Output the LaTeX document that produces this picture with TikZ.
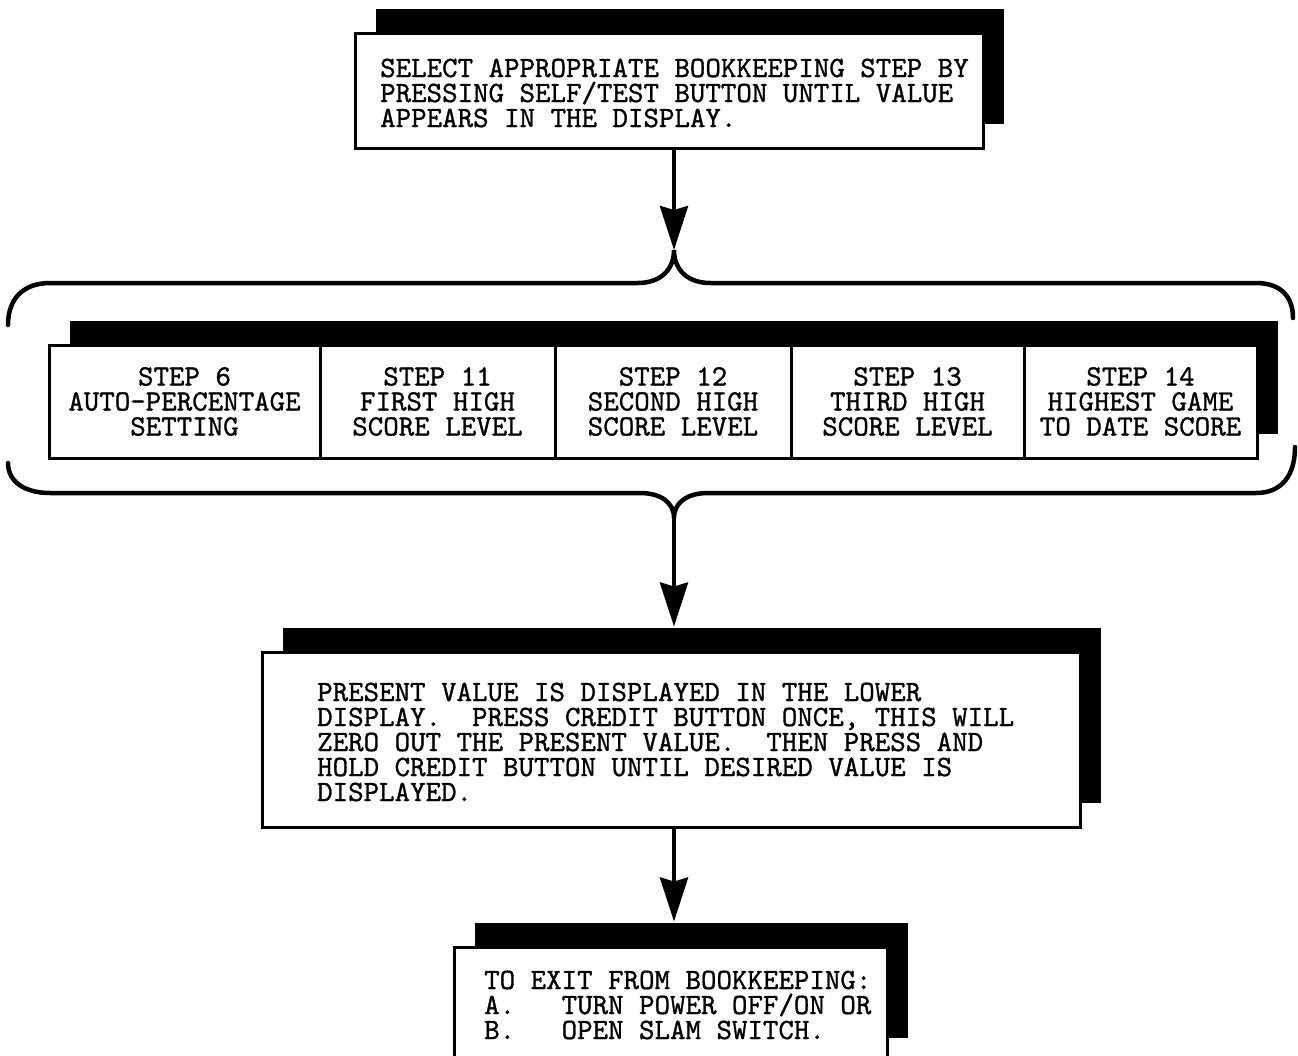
\documentclass[tikz,border=0pt]{standalone}
\usepackage{fontspec}
\newfontfamily\typewriter[FakeBold=1]{lmmono10-regular.otf}
\usetikzlibrary{arrows.meta,shadows,calc}

\begin{document}
\begin{tikzpicture}[x=1pt,y=-1pt,
  box/.style={draw, line width=3pt, fill=white, rectangle, inner sep=0pt,
    general shadow={fill=black, shadow xshift=21pt, shadow yshift=24pt}},
  txt/.style={font=\typewriter\fontsize{29.5}{25}\selectfont, inner sep=0pt, align=left},
  steptxt/.style={font=\typewriter\fontsize{29.5}{25}\selectfont, align=center},
  brace/.style={line width=4.5pt, line cap=round},
  flow/.style={line width=4pt, -{Stealth[length=44pt,width=28pt,inset=4pt]}}]

\useasboundingbox (0,0) rectangle (1298,1055);
\clip (0,0) rectangle (1298,1055);

% first instruction
\node[box, minimum width=628pt, minimum height=115pt] (sel) at (669,90.5) {};
\node[txt, anchor=west] (seltxt) at (380,93)
  {SELECT APPROPRIATE BOOKKEEPING STEP BY\\PRESSING SELF/TEST BUTTON UNTIL VALUE\\APPEARS IN THE DISPLAY.};

% bookkeeping steps
\node[box, steptxt, minimum width=271pt, minimum height=113pt] (s6)  at (184.5,401.5)
  {STEP 6\\AUTO-PERCENTAGE\\SETTING};
\node[box, steptxt, minimum width=235pt, minimum height=113pt] (s11) at (437.5,401.5)
  {STEP 11\\FIRST HIGH\\SCORE LEVEL};
\node[box, steptxt, minimum width=236pt, minimum height=113pt] (s12) at (673,401.5)
  {STEP 12\\SECOND HIGH\\SCORE LEVEL};
\node[box, steptxt, minimum width=233pt, minimum height=113pt] (s13) at (907.5,401.5)
  {STEP 13\\THIRD HIGH\\SCORE LEVEL};
\node[box, steptxt, minimum width=233pt, minimum height=113pt] (s14) at (1140.5,401.5)
  {STEP 14\\HIGHEST GAME\\TO DATE SCORE};

% setting the value
\node[box, minimum width=818pt, minimum height=175pt] (mid) at (671,739.5) {};
\node[txt, anchor=west] (midtxt) at (317,742)
  {PRESENT VALUE IS DISPLAYED IN THE LOWER\\DISPLAY.~~PRESS CREDIT BUTTON ONCE, THIS WILL\\ZERO OUT THE PRESENT VALUE.~~THEN PRESS AND\\HOLD CREDIT BUTTON UNTIL DESIRED VALUE IS\\DISPLAYED.};

% leaving bookkeeping
\node[box, minimum width=433pt, minimum height=115pt] (ex) at (670.5,1004.5) {};
\node[txt, anchor=west] (extxt) at (484,1005)
  {TO EXIT FROM BOOKKEEPING:\\A.~~~TURN POWER OFF/ON OR\\B.~~~OPEN SLAM SWITCH.};

% braces around the step row
\coordinate (tcusp) at (674,250);
\coordinate (bcusp) at (674,518);
\draw[brace] (8,325) .. controls (8,298) and (24,283) .. (50,283)
  -- (638,283) .. controls (660,283) and (674,270) .. (tcusp)
  .. controls (674,270) and (688,283) .. (710,283)
  -- (1256,283) .. controls (1280,283) and (1293,296) .. (1293,318);
\draw[brace] (8,463) .. controls (8,482) and (25,493) .. (50,493)
  -- (640,493) .. controls (660,493) and (674,502) .. (bcusp)
  .. controls (674,502) and (688,493) .. (708,493)
  -- (1256,493) .. controls (1282,493) and (1295,475) .. (1295,447);

% flow arrows
\draw[flow] (sel.south -| tcusp) -- (tcusp);
\draw[flow] (bcusp) -- ($(bcusp |- mid.north)+(0,-24)$);
\draw[flow] (mid.south -| bcusp) -- ($(bcusp |- ex.north)+(0,-24)$);
\end{tikzpicture}
\end{document}
